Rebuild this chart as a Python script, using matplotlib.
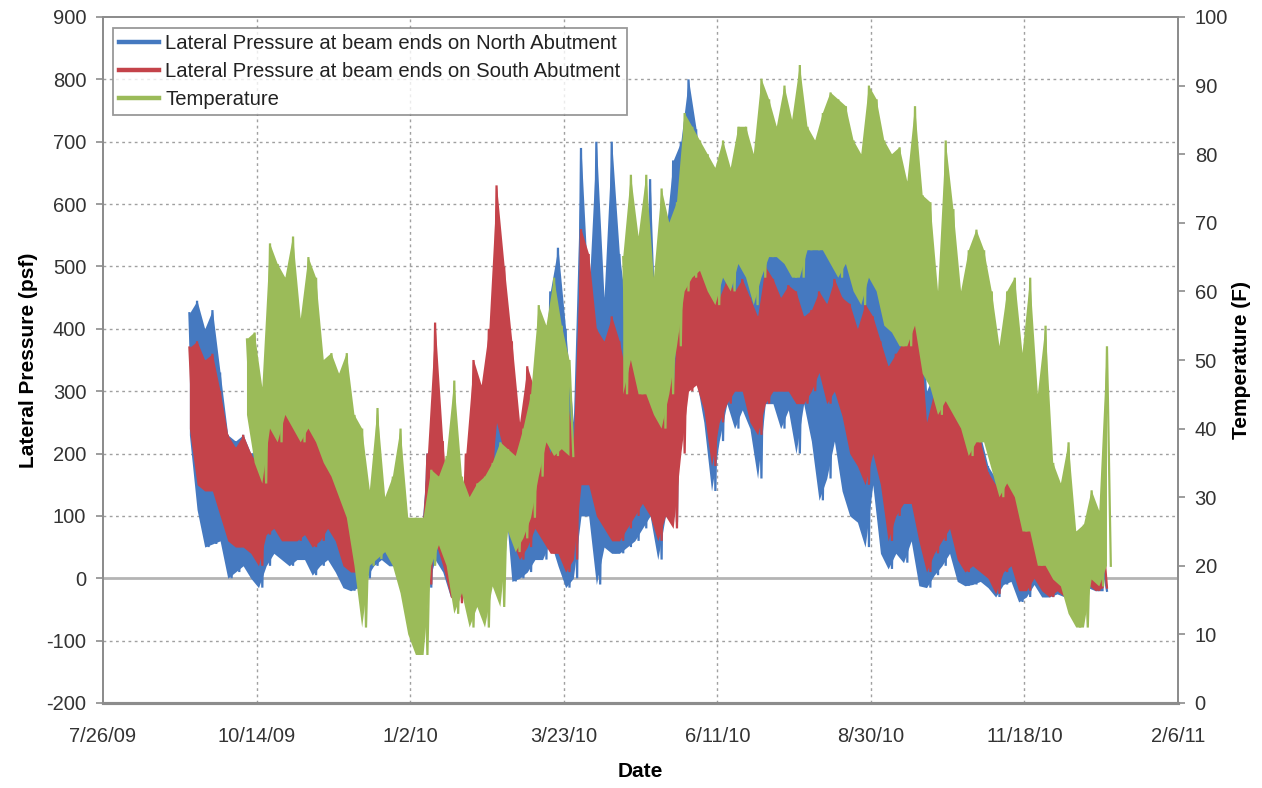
import matplotlib
matplotlib.use("Agg")
import matplotlib.pyplot as plt
import matplotlib.dates as mdates
from matplotlib.lines import Line2D
import numpy as np
import pandas as pd

plt.rcParams["font.family"] = ["Liberation Sans", "DejaVu Sans"]
plt.rcParams["axes.unicode_minus"] = False

# Readings summarised as high/low envelopes over 4-day windows
pressure_start = "2009-09-09"
temp_start = "2009-10-09"
step_days = 4

north_hi = [425, 445, 400, 430, 330, 230, 220, 230, 200, 210,
            310, 340, 330, 280, 260, 320, 270, 270, 260, 240,
            220, 180, 130, 110, 130, 120, 100, 120, 40, 40,
            40, 200, 220, 100, 50, 40, 100, 170, 150, 250,
            300, 280, 200, 150, 200, 290, 320, 460, 530, 400,
            250, 690, 450, 700, 450, 700, 520, 420, 400, 450,
            640, 300, 550, 670, 700, 800, 720, 600, 560, 550,
            580, 560, 560, 540, 520, 620, 620, 600, 600, 580,
            560, 570, 600, 620, 640, 630, 560, 520, 560, 600,
            450, 420, 400, 400, 500, 520, 300, 330, 400, 400,
            300, 260, 280, 230, 180, 160, 170, 240, 210, 210,
            220, 60, 40, 30, 10, 20, 0, 20, -5, 20]
north_lo = [230, 110, 50, 55, 60, 0, 10, 20, 0, -15,
            20, 40, 30, 20, 30, 30, 5, 20, 30, 10,
            -15, -20, -15, 0, 20, 30, 20, 20, -20, -25,
            -15, -15, 30, 10, -30, -30, -20, 60, 40, 60,
            130, 140, -5, 0, 10, 30, 30, 60, 20, -15,
            0, 100, 100, -10, 50, 40, 40, 50, 60, 80,
            100, 30, 100, 90, 250, 400, 320, 250, 140, 220,
            280, 240, 270, 240, 160, 280, 280, 240, 270, 200,
            280, 220, 125, 160, 220, 140, 100, 90, 50, 150,
            40, 15, 40, 25, 60, -12, -15, 5, 20, 40,
            -5, -12, -10, -5, -15, -30, -10, -5, -38, -30,
            -10, -30, -30, -25, -30, -60, -20, -15, -20, -20]

south_hi = [370, 380, 350, 360, 300, 230, 210, 230, 200, 180,
            300, 330, 290, 260, 240, 300, 240, 250, 240, 210,
            200, 170, 110, 100, 120, 110, 90, 110, 30, 40,
            30, 200, 410, 220, 60, 50, 200, 350, 310, 400,
            630, 500, 380, 250, 340, 300, 250, 200, 400, 300,
            220, 560, 520, 400, 380, 420, 380, 320, 450, 470,
            400, 250, 430, 300, 520, 550, 520, 480, 500, 450,
            480, 460, 480, 450, 420, 500, 480, 450, 470, 460,
            420, 430, 460, 440, 480, 450, 440, 400, 440, 420,
            380, 340, 360, 380, 400, 420, 250, 300, 380, 380,
            250, 250, 270, 220, 170, 150, 160, 230, 200, 200,
            220, 60, 40, 30, 20, 30, 20, 50, 0, 60]
south_lo = [240, 150, 140, 140, 100, 60, 50, 50, 40, 20,
            70, 80, 60, 60, 60, 70, 50, 60, 80, 60,
            20, 10, 10, 30, 40, 50, 40, 30, -10, -20,
            -10, -10, 60, 20, -30, -40, 20, 100, 80, 120,
            250, 200, 60, 30, 50, 80, 60, 40, 40, 10,
            30, 150, 150, 100, 80, 60, 60, 80, 100, 120,
            100, 60, 100, 80, 200, 300, 310, 270, 180, 250,
            280, 300, 300, 250, 230, 280, 300, 300, 300, 280,
            280, 300, 330, 280, 300, 260, 200, 180, 150, 200,
            150, 60, 100, 120, 120, 60, 10, 40, 60, 80,
            30, 10, 20, 10, 0, -25, 10, 20, -20, -20,
            0, -20, -30, -20, -30, -55, -20, -10, -20, -15]

nan = float("nan")
temp_hi = [53, 54, 46, 67, 64, 62, 68, 56, 65, 62,
           50, 51, 48, 51, 42, 40, 31, 43, 30, 33,
           40, 27, 27, 27, 34, 33, 36, 47, 33, 30,
           32, 33, 35, 38, 37, 36, 40, 45, 58, 55,
           62, 55, 50, nan, nan, nan, nan, nan, nan, 65,
           77, 68, 77, 62, 75, 70, 73, 86, 84, 82,
           80, 78, 82, 78, 84, 84, 80, 91, 88, 84,
           90, 85, 93, 84, 82, 86, 89, 88, 87, 82,
           80, 90, 88, 82, 80, 81, 76, 87, 74, 73,
           60, 82, 72, 60, 66, 69, 66, 60, 52, 60,
           62, 51, 62, 45, 55, 35, 32, 38, 25, 26,
           31, 28, 52]
temp_lo = [42, 35, 32, 40, 38, 42, 40, 38, 40, 38,
           35, 33, 30, 27, 20, 11, 20, 21, 22, 20,
           16, 10, 7, 7, 20, 23, 20, 13, 16, 11,
           14, 11, 17, 14, 25, 22, 24, 27, 33, 38,
           36, 37, 36, nan, nan, nan, nan, nan, nan, 45,
           50, 45, 45, 42, 40, 45, 52, 60, 62, 63,
           60, 58, 62, 60, 64, 62, 58, 62, 65, 65,
           64, 62, 62, 66, 66, 66, 64, 62, 64, 60,
           58, 62, 60, 55, 54, 52, 52, 55, 48, 46,
           42, 44, 42, 40, 36, 38, 38, 34, 30, 32,
           30, 25, 25, 20, 20, 18, 17, 13, 11, 11,
           18, 17, 20]

date_ticks = ["7/26/09", "10/14/09", "1/2/10", "3/23/10",
              "6/11/10", "8/30/10", "11/18/10", "2/6/11"]

BLUE = "#4579c0"
RED = "#c4434a"
GREEN = "#9bbb59"
GRID = "#a0a0a0"
AXIS = "#8c8c8c"


def draw_band(ax, start, hi, lo, color):
    t = mdates.date2num(pd.date_range(start, periods=len(hi), freq=f"{step_days}D"))
    hi = np.asarray(hi, dtype=float)
    lo = np.asarray(lo, dtype=float)
    ax.fill_between(t, lo, hi, color=color, lw=0, zorder=2)
    # daily swing: alternate between the window high and low
    xs = np.column_stack([t, t + step_days / 2]).ravel()
    ys = np.column_stack([hi, lo]).ravel()
    ax.plot(xs, ys, color=color, lw=1.6, zorder=2, solid_joinstyle="miter")


fig = plt.figure(figsize=(12.62, 7.88), dpi=100)
ax = fig.add_axes([103 / 1262, 85 / 788, 1075 / 1262, 686 / 788])
ax2 = ax.twinx()

draw_band(ax, pressure_start, north_hi, north_lo, BLUE)
draw_band(ax, pressure_start, south_hi, south_lo, RED)
draw_band(ax2, temp_start, temp_hi, temp_lo, GREEN)

tick_dates = pd.to_datetime(date_ticks, format="%m/%d/%y")
tick_nums = mdates.date2num(tick_dates)
ax.set_xlim(tick_nums[0], tick_nums[-1])
ax.set_xticks(tick_nums)
ax.set_xticklabels(date_ticks)

ax.set_ylim(-200, 900)
ax.set_yticks(np.arange(-200, 901, 100))
ax2.set_ylim(0, 100)
ax2.set_yticks(np.arange(0, 101, 10))

# dotted grid behind the data, solid line at zero pressure
for y in range(-100, 900, 100):
    if y != 0:
        ax.axhline(y, color=GRID, lw=1.0, ls=(0, (2, 2.5)), zorder=0.5)
for x in tick_nums[1:-1]:
    ax.axvline(x, color=GRID, lw=1.0, ls=(0, (2, 2.5)), zorder=0.5)
ax.axhline(0, color="#b4b4b4", lw=2.0, zorder=0.6)

for a in (ax, ax2):
    for side in ("left", "right", "top"):
        a.spines[side].set_color(AXIS)
        a.spines[side].set_linewidth(1.3)
    a.spines["bottom"].set_color(AXIS)
    a.spines["bottom"].set_linewidth(2.2)

ax.tick_params(axis="y", direction="out", length=5, width=1.2, color=AXIS,
               labelsize=14.5, labelcolor="#333333", pad=7)
ax2.tick_params(axis="y", direction="out", length=5, width=1.2, color=AXIS,
                labelsize=14.5, labelcolor="#333333", pad=7)
ax.tick_params(axis="x", length=0, labelsize=14.5, labelcolor="#333333", pad=17)

ax.set_xlabel("Date", fontsize=15, fontweight="bold", labelpad=12)
ax.set_ylabel("Lateral Pressure (psf)", fontsize=15, fontweight="bold", labelpad=6)
ax2.set_ylabel("Temperature (F)", fontsize=15, fontweight="bold", labelpad=3)

handles = [Line2D([], [], color=BLUE, lw=3.2),
           Line2D([], [], color=RED, lw=3.2),
           Line2D([], [], color=GREEN, lw=3.2)]
labels = ["Lateral Pressure at beam ends on North Abutment",
          "Lateral Pressure at beam ends on South Abutment",
          "Temperature"]
leg = ax2.legend(handles, labels, loc="upper left", bbox_to_anchor=(0.009, 0.984),
                 borderaxespad=0, fontsize=14.6, frameon=True, fancybox=False,
                 handlelength=2.0, handletextpad=0.3, labelspacing=0.45,
                 borderpad=0.3)
leg.get_frame().set_edgecolor("#7f7f7f")
leg.get_frame().set_linewidth(1.3)
for txt in leg.get_texts():
    txt.set_color("#222222")

fig.savefig("out.png", dpi=100)
plt.close(fig)
